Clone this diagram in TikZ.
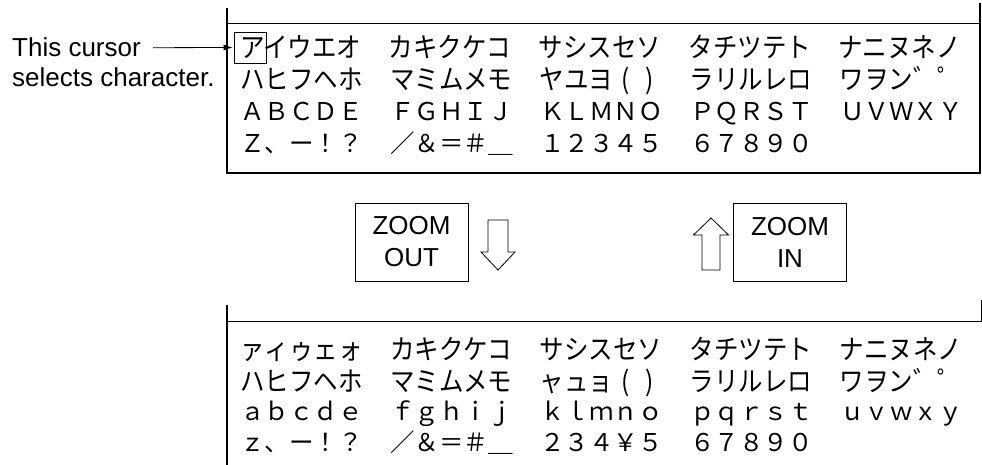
\documentclass[tikz,border=0pt]{standalone}
\usepackage{fontspec}
\setmainfont{Liberation Sans}
\newfontfamily\jpfont{Noto Sans CJK JP}
\newfontfamily\kanafont[FakeStretch=0.89]{Noto Sans CJK JP}
\usetikzlibrary{positioning,arrows.meta}
\newcommand{\colgap}{\hspace{27.5pt}}
\newcommand{\cell}[1]{\makebox[24.5pt]{#1}}

\begin{document}
\begin{tikzpicture}[x=1pt,y=-1pt,
  charrow/.style={anchor=west, inner sep=0pt, text height=21.6pt, text depth=2.9pt,
    font=\jpfont\fontsize{24.5}{30}\selectfont},
  kanarow/.style={anchor=west, inner sep=0pt, text height=24.2pt, text depth=3.3pt,
    font=\kanafont\fontsize{27.5}{30}\selectfont},
  note/.style={anchor=base west, inner sep=0pt, font=\fontsize{26}{30}\selectfont},
  zoombox/.style={draw, line width=0.8pt, minimum width=113pt, minimum height=78pt,
    inner sep=0pt, align=center, font=\fontsize{26}{32}\selectfont},
  cursorbox/.style={draw, line width=0.8pt, minimum width=32pt, minimum height=31pt, inner sep=0pt},
  panel/.style={line width=1.6pt},
  rule/.style={line width=0.8pt},
  hollow/.style={draw, line width=0.8pt, line join=miter},
  arr/.style={-{Latex[length=9pt,width=6pt]}, line width=0.8pt, shorten >=1pt},
]
  \useasboundingbox (0,0) rectangle (982,465);

  \draw[panel] (227,8) -- (227,173) -- (980,173) -- (980,3);
  \draw[rule] (227,23) -- (980,23);

  \node[kanarow] (ta) at (240,47.5)
    {アイウエオ\colgap カキクケコ\colgap サシスセソ\colgap タチツテト\colgap ナニヌネノ};
  \node[kanarow] (tb) at (240,79.5)
    {ハヒフヘホ\colgap マミムメモ\colgap ヤユヨ\cell{(}\cell{)}\colgap ラリルレロ\colgap ワヲン゛゜};
  \node[charrow] (tc) at (240,111.5)
    {ＡＢＣＤＥ\colgap ＦＧＨＩＪ\colgap ＫＬＭＮＯ\colgap ＰＱＲＳＴ\colgap ＵＶＷＸＹ};
  \node[charrow] (td) at (240,143)
    {Ｚ、ー！？\colgap ／＆＝＃＿\colgap １２３４５\colgap ６７８９０};

  \node[cursorbox] (cursor) at (250,47.5) {};
  \node[note] (cur1) at (12,57) {This cursor};
  \node[note] (cur2) at (12,87) {selects character.};
  \draw[arr] ([xshift=12pt]cur1.east) -- (cursor.west);

  \node[zoombox] (out) at (411.5,242) {ZOOM\\OUT};
  \node[zoombox] (in) at (790,242) {ZOOM\\IN};

  \draw[hollow] (488,220) -- (508,220) -- (508,252) -- (515,252) -- (498,270)
    -- (481,252) -- (488,252) -- cycle;
  \draw[hollow] (702,270) -- (720,270) -- (720,235) -- (728.5,235) -- (711,218)
    -- (693.5,235) -- (702,235) -- cycle;

  \draw[panel] (227,305) -- (227,465);
  \draw[rule] (227,321) -- (981,321) -- (981,300);

  \node[kanarow] (ba) at (240,349.5)
    {ァィゥェォ\colgap カキクケコ\colgap サシスセソ\colgap タチツテト\colgap ナニヌネノ};
  \node[kanarow] (bb) at (240,381)
    {ハヒフヘホ\colgap マミムメモ\colgap ャュョ\cell{(}\cell{)}\colgap ラリルレロ\colgap ワヲン゛゜};
  \node[charrow] (bc) at (240,411.5)
    {ａｂｃｄｅ\colgap ｆｇｈｉｊ\colgap ｋｌｍｎｏ\colgap ｐｑｒｓｔ\colgap ｕｖｗｘｙ};
  \node[charrow] (bd) at (240,442)
    {ｚ、ー！？\colgap ／＆＝＃＿\colgap ２３４￥５\colgap ６７８９０};
\end{tikzpicture}
\end{document}
